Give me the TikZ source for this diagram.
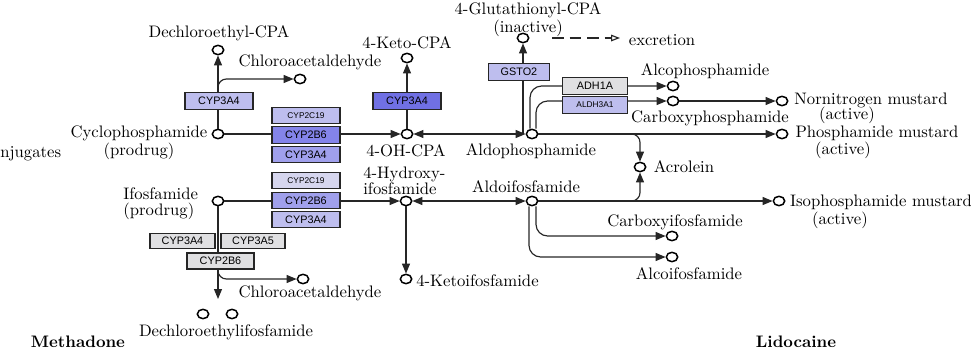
\documentclass[tikz,border=0pt]{standalone}
\usepackage{fontspec}
\newfontfamily\enzfont{Liberation Sans}
\usepackage{tikz}
\usetikzlibrary{arrows.meta,positioning,calc,shapes.geometric}
\definecolor{EzGray}{RGB}{224,224,226}
\definecolor{EzPale}{RGB}{214,214,238}
\definecolor{EzLight}{RGB}{190,190,238}
\definecolor{EzMid}{RGB}{160,160,236}
\definecolor{EzStrong}{RGB}{132,132,234}
\definecolor{EzDark}{RGB}{112,112,228}
\tikzset{
  met/.style={ellipse,draw=black,line width=0.9pt,fill=white,
              minimum width=6.8pt,minimum height=5.6pt,inner sep=0pt},
  lbl/.style={font=\fontsize{10}{8.5}\selectfont,inner sep=0pt},
  hd/.style={lbl,font=\bfseries\fontsize{10}{8}\selectfont},
  enz/.style={rectangle,draw=black!85,line width=0.7pt,minimum width=40.8pt,
              minimum height=10pt,inner sep=0pt,font=\enzfont\fontsize{6.5}{6.5}\selectfont},
  enzs/.style={enz,font=\enzfont\fontsize{5}{5}\selectfont},
  rxn/.style={-{Triangle[length=6pt,width=4.8pt]},line width=0.7pt,black!85},
  rxnb/.style={{Triangle[length=6pt,width=4.8pt]}-{Triangle[length=6pt,width=4.8pt]},
               line width=0.7pt,black!85},
  excr/.style={-{Triangle[open,length=5.4pt,width=4pt]},dash pattern=on 7pt off 3.5pt,
               line width=0.7pt,black!85},
}
\begin{document}
\begin{tikzpicture}[x=0.6pt,y=-0.6pt]
  \useasboundingbox (0,0) rectangle (971,350);

  % cyclophosphamide branch
  \node[met] (cyc)   at (218,134) {};
  \node[met] (dce)   at (218,50)  {};
  \node[met] (cla1)  at (300,79)  {};
  \node[met] (oh)    at (407,134) {};
  \node[met] (keto)  at (407,58)  {};
  \node[met] (aldo)  at (532,134) {};
  \node[met] (glu)   at (523,38)  {};
  \node[met] (alc)   at (673,86)  {};
  \node[met] (carb)  at (673,101) {};
  \node[met] (nor)   at (782,101) {};
  \node[met] (pm)    at (782,134) {};
  \node[met] (acr)   at (640,167) {};

  % ifosfamide branch
  \node[met] (ifo)   at (218,201) {};
  \node[met] (hyd)   at (406,201) {};
  \node[met] (aldoi) at (532,201) {};
  \node[met] (ipm)   at (779,201) {};
  \node[met] (cxi)   at (672,236) {};
  \node[met] (alci)  at (672,257) {};
  \node[met] (ketoi) at (406,279) {};
  \node[met] (cla2)  at (303,279) {};
  \node[met] (dcei1) at (203,314) {};
  \node[met] (dcei2) at (232,314) {};

  \coordinate (cycbr)  at (218,88);
  \coordinate (ifobr)  at (218,271);
  \coordinate (ifoend) at (218,299);
  \coordinate (exA)    at (552,38);
  \coordinate (exB)    at (620,38);

  % labels
  \node[lbl,align=center] (cyc-l) at (139,142.5) {Cyclophosphamide\\(prodrug)};
  \node[lbl] (dce-l)   at (219,33)  {Dechloroethyl-CPA};
  \node[lbl] (cla1-l)  at (310,62)  {Chloroacetaldehyde};
  \node[lbl] (keto-l)  at (407,43)  {4-Keto-CPA};
  \node[lbl] (oh-l)    at (406,151) {4-OH-CPA};
  \node[lbl,align=center] (glu-l) at (528,19.5) {4-Glutathionyl-CPA\\(inactive)};
  \node[lbl] (ex-l)    at (662,40)  {excretion};
  \node[lbl] (aldo-l)  at (531,151) {Aldophosphamide};
  \node[lbl] (alc-l)   at (705,71)  {Alcophosphamide};
  \node[lbl] (carb-l)  at (710,118) {Carboxyphosphamide};
  \node[lbl] (nor-l)   at (871,100) {Nornitrogen mustard};
  \node[lbl] (nor-a)   at (847,115) {(active)};
  \node[lbl] (pm-l)    at (877,133) {Phosphamide mustard};
  \node[lbl] (pm-a)    at (843,150) {(active)};
  \node[lbl] (acr-l)   at (684,167) {Acrolein};
  \node[lbl] (conj-l)  at (0,154) [anchor=west] {njugates};
  \node[lbl,align=left,anchor=west] (ifo-l) at (123,204) {Ifosfamide\\[1pt](prodrug)};
  \node[lbl,align=left,anchor=west] (hyd-l) at (363,180.5) {4-Hydroxy-\\[-0.3pt]ifosfamide};
  \node[lbl] (aldoi-l) at (526,187) {Aldoifosfamide};
  \node[lbl] (ipm-l)   at (881,202) {Isophosphamide mustard};
  \node[lbl] (ipm-a)   at (840,220) {(active)};
  \node[lbl] (cxi-l)   at (675,222) {Carboxyifosfamide};
  \node[lbl] (alci-l)  at (689,274) {Alcoifosfamide};
  \node[lbl,anchor=west] (ketoi-l) at (416,281) {4-Ketoifosfamide};
  \node[lbl] (cla2-l)  at (310,293) {Chloroacetaldehyde};
  \node[lbl] (dcei-l)  at (226,332) {Dechloroethylifosfamide};
  \node[hd]  (meth)    at (78,342)  {Methadone};
  \node[hd]  (lido)    at (796,342) {Lidocaine};

  % reactions
  \draw[rxn] (cyc) -- (dce);
  \draw[rxn,rounded corners=5pt] (cycbr) |- (cla1);
  \draw[rxn] (cyc) -- (oh);
  \draw[rxn] (oh) -- (keto);
  \draw[rxnb] (oh) -- (aldo);
  \draw[rxn] (glu |- aldo) -- (glu);
  \draw[excr] (exA) -- (exB);
  \draw[rxn,rounded corners=7pt] ($(aldo.north)+(-2,0)$) |- (alc);
  \draw[rxn,rounded corners=7pt] ($(aldo.north)+(4,0)$) |- (carb);
  \draw[rxn] (carb) -- (nor);
  \draw[rxn] (aldo) -- (pm);
  \draw[rxn,rounded corners=5pt] ($(acr |- aldo)+(-12,0)$) -| (acr);

  \draw[rxn] (ifo) -- (hyd);
  \draw[rxnb] (hyd) -- (aldoi);
  \draw[rxn] (hyd) -- (ketoi);
  \draw[rxn] (aldoi) -- (ipm);
  \draw[rxn,rounded corners=5pt] ($(acr |- aldoi)+(-12,0)$) -| (acr);
  \draw[rxn,rounded corners=7pt] ($(aldoi.south)+(4,0)$) |- (cxi);
  \draw[rxn,rounded corners=7pt] ($(aldoi.south)+(-3,0)$) |- (alci);
  \draw[rxn] (ifo) -- (ifoend);
  \draw[rxn,rounded corners=5pt] (ifobr) |- (cla2);

  % enzymes
  \node[enz,fill=EzLight]  (e1)   at (219,101)   {CYP3A4};
  \node[enzs,fill=EzLight] (s1a)  at (306,115.5) {CYP2C19};
  \node[enz,fill=EzStrong] (s1b)  at (306,135)   {CYP2B6};
  \node[enz,fill=EzMid]    (s1c)  at (306,154.5) {CYP3A4};
  \node[enz,fill=EzDark]   (e2)   at (407,101)   {CYP3A4};
  \node[enz,fill=EzLight,minimum width=36.6pt] (gst) at (519,72) {GSTO2};
  \node[enz,fill=EzGray,minimum width=39pt]    (adh) at (595,86) {ADH1A};
  \node[enzs,fill=EzLight,minimum width=39pt]  (aldh) at (595,105) {ALDH3A1};
  \node[enzs,fill=EzPale]  (s2a)  at (306,180.5) {CYP2C19};
  \node[enz,fill=EzMid]    (s2b)  at (306,200.5) {CYP2B6};
  \node[enz,fill=EzLight]  (s2c)  at (306,219.5) {CYP3A4};
  \node[enz,fill=EzGray,minimum width=39pt,minimum height=9pt]   (l1) at (182.5,241) {CYP3A4};
  \node[enz,fill=EzGray,minimum width=38.4pt,minimum height=9pt] (l2) at (253,241)   {CYP3A5};
  \node[enz,fill=EzGray,minimum width=40.2pt,minimum height=9.6pt] (l3) at (220.5,261) {CYP2B6};
\end{tikzpicture}
\end{document}
